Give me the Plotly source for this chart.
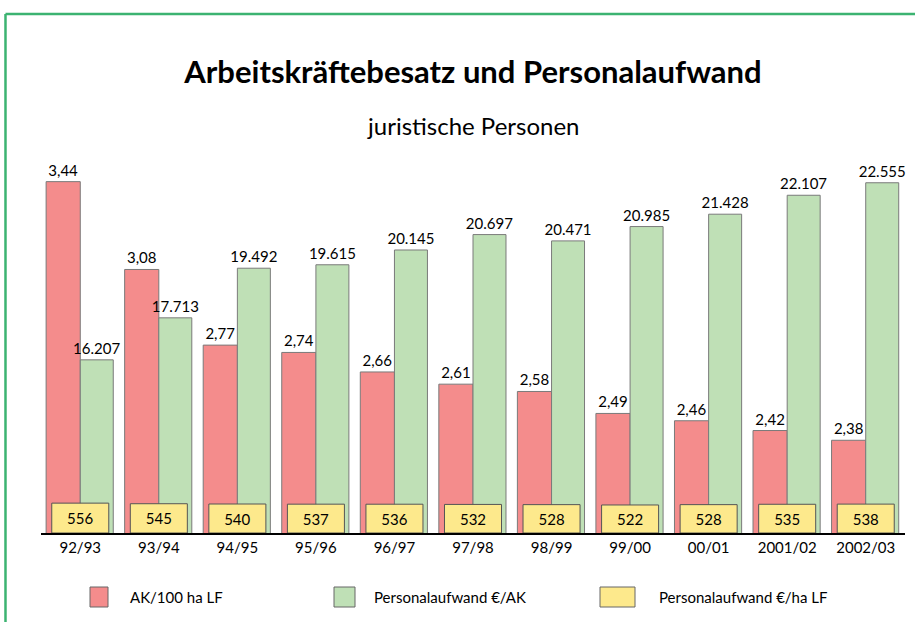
"""
Arbeitskraeftebesatz und Personalaufwand - juristische Personen
"""

import plotly.graph_objects as go

jahre = ['92/93', '93/94', '94/95', '95/96', '96/97', '97/98',
         '98/99', '99/00', '00/01', '2001/02', '2002/03']
ak_100ha = [3.44, 3.08, 2.77, 2.74, 2.66, 2.61, 2.58, 2.49, 2.46, 2.42, 2.38]
aufwand_ak = [16207, 17713, 19492, 19615, 20145, 20697, 20471, 20985, 21428, 22107, 22555]
aufwand_ha = [556, 545, 540, 537, 536, 532, 528, 522, 528, 535, 538]

ROT = '#f48c8c'
GRUEN = '#bfe0b6'
GELB = '#fde98c'
RAHMEN = '#3cb371'
FONT = 'Lato'

ak_text = [f"{v:.2f}".replace('.', ',') for v in ak_100ha]
ak_text_eur = [f"{v:,}".replace(',', '.') for v in aufwand_ak]

fig = go.Figure()

fig.add_trace(go.Bar(
    x=jahre, y=ak_100ha, base=0, yaxis='y',
    offset=-0.435, width=0.435,
    marker=dict(color=ROT, line=dict(color='#7a7a7a', width=1)),
    text=ak_text, textposition='outside', cliponaxis=False, constraintext='none',
    textfont=dict(size=15, color='black', family=FONT),
    name='AK/100 ha LF', showlegend=False
))

fig.add_trace(go.Bar(
    x=jahre, y=aufwand_ak, yaxis='y2',
    offset=0, width=0.42,
    marker=dict(color=GRUEN, line=dict(color='#7a7a7a', width=1)),
    text=ak_text_eur, textposition='outside', cliponaxis=False, constraintext='none',
    textfont=dict(size=15, color='black', family=FONT),
    name='Personalaufwand €/AK', showlegend=False
))

fig.add_trace(go.Bar(
    x=jahre, y=aufwand_ha, yaxis='y3',
    offset=-0.363, width=0.726,
    marker=dict(color=GELB, line=dict(color='#555555', width=1)),
    text=[str(v) for v in aufwand_ha], textposition='inside',
    insidetextanchor='middle', constraintext='none',
    textfont=dict(size=15, color='black', family=FONT),
    name='Personalaufwand €/ha LF', showlegend=False
))

# Rahmen oben/links
fig.add_shape(type='line', xref='paper', yref='paper',
              x0=-0.0411, x1=1.05, y0=1.418, y1=1.418,
              line=dict(color=RAHMEN, width=2.5))
fig.add_shape(type='line', xref='paper', yref='paper',
              x0=-0.0411, x1=-0.0411, y0=1.418, y1=-0.3,
              line=dict(color=RAHMEN, width=2.5))

# Legende
legende = [
    (ROT, 'AK/100 ha LF', 90, 108, 128),
    (GRUEN, 'Personalaufwand €/AK', 334, 355, 372),
    (GELB, 'Personalaufwand €/ha LF', 600, 635, 657),
]
def px_x(p):
    return (p - 41) / 864

def px_y(p):
    return (533 - p) / 366

for farbe, label, x0, x1, xt in legende:
    fig.add_shape(type='rect', xref='paper', yref='paper',
                  x0=px_x(x0), x1=px_x(x1), y0=px_y(607), y1=px_y(587),
                  fillcolor=farbe, line=dict(color='#666666', width=1))
    fig.add_annotation(text=label, xref='paper', yref='paper',
                       x=px_x(xt), y=px_y(597), xanchor='left', yanchor='middle',
                       showarrow=False, font=dict(size=15, color='black', family=FONT))

fig.add_annotation(text='juristische Personen', xref='paper', yref='paper',
                   x=0.5, y=px_y(125), xanchor='center', yanchor='middle',
                   showarrow=False, font=dict(size=24, color='black', family=FONT))

fig.update_layout(
    width=915, height=622,
    margin=dict(l=41, r=10, t=167, b=89),
    paper_bgcolor='white', plot_bgcolor='white',
    barmode='overlay',
    title=dict(text='<b>Arbeitskräftebesatz und Personalaufwand</b>',
               x=0.5, xref='paper', y=1 - 72 / 622, yref='container',
               xanchor='center', yanchor='middle',
               font=dict(size=31, color='black', family=FONT)),
    font=dict(family=FONT, color='black'),
    xaxis=dict(showline=True, linecolor='black', linewidth=1.5,
               showgrid=False, ticks='', tickfont=dict(size=15, family=FONT)),
    yaxis=dict(range=[2, 3.5], visible=False, showgrid=False),
    yaxis2=dict(range=[10000, 23120], overlaying='y', visible=False, showgrid=False),
    yaxis3=dict(range=[0, 6815], overlaying='y', visible=False, showgrid=False),
)

fig.write_html("out.html", config={'displayModeBar': False},
               post_script="document.body.style.margin='0';")
